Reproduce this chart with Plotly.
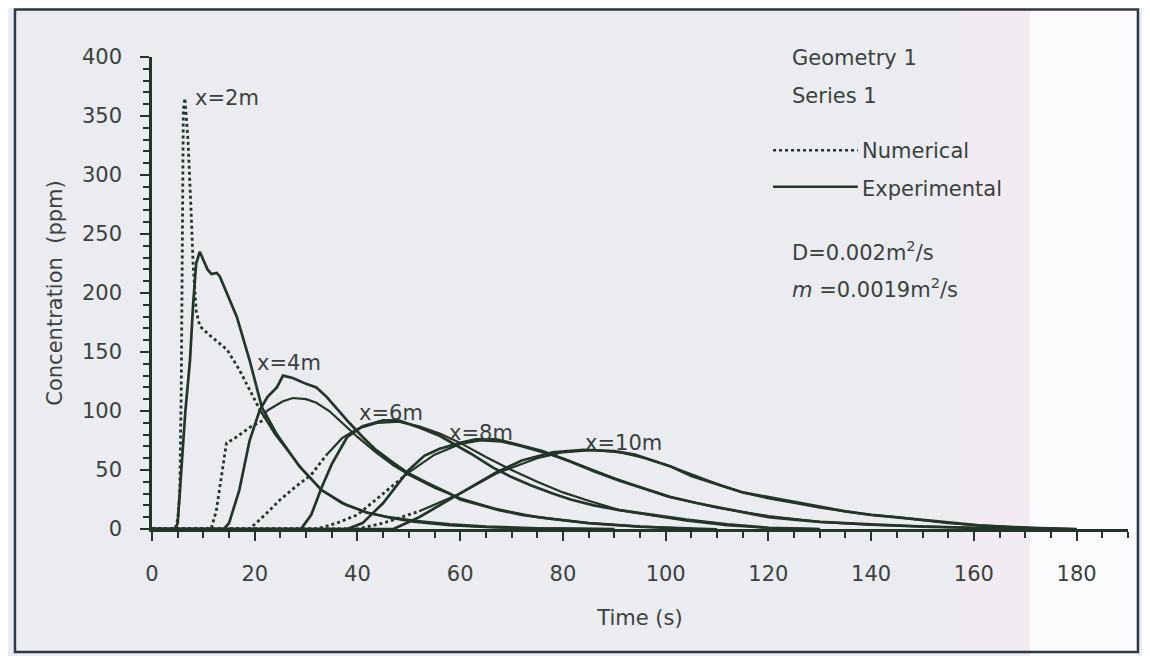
import plotly.graph_objects as go

# ---------------- data ----------------
# x = 2 m
t_num_2 = [0, 4.5, 5.0, 5.4, 5.7, 5.9, 6.1, 6.4, 7.0, 7.6, 8.0, 8.6, 9.3, 11, 13, 14.6, 17, 19, 21, 24, 29, 33, 38, 42, 47, 51, 58, 65, 75, 90]
c_num_2 = [0, 0, 8, 30, 120, 260, 355, 365, 330, 270, 225, 185, 172, 165, 158, 152, 135, 118, 101, 80, 52, 33, 20, 14, 9, 6, 3, 1.5, 0.5, 0]
t_exp_2 = [0, 4.5, 5, 5.8, 6.5, 7.4, 8.0, 8.6, 9.3, 10, 10.8, 11.6, 12.6, 13.2, 15, 16.5, 19, 21.4, 24.2, 28.7, 33, 37, 41.7, 46, 51, 58, 65, 75, 90]
c_exp_2 = [0, 0, 5, 53, 100, 143, 190, 225, 235, 228, 220, 216, 217, 214, 196, 180, 143, 103, 81, 53, 33, 22, 14, 10, 7, 4, 2, 0.5, 0]

# x = 4 m
t_num_4 = [0, 11.5, 12.5, 13.5, 14.5, 15.8, 17, 19, 21.6, 22.3, 25.4, 27.4, 30, 32, 34.5, 37, 40, 43.6, 47, 50, 55, 60, 67, 75, 85, 95, 110]
c_num_4 = [0, 0, 15, 45, 73, 76, 80, 86, 92, 100, 108, 111, 110, 107, 100, 90, 78, 65, 54, 46, 35, 26, 17, 10, 5, 2, 0]
t_exp_4 = [0, 14, 15, 16, 17, 19, 21, 22.5, 24.3, 25.5, 27.4, 30, 32, 34, 36, 38.4, 41, 43.6, 47, 50, 53.6, 58, 60, 64, 67.6, 72, 77, 85, 95, 105]
c_exp_4 = [0, 0, 5, 18, 33, 75, 101, 112, 120, 130, 128, 123, 120, 112, 102, 90, 78, 67, 56, 47, 39, 30, 25, 20, 16, 12, 9, 5, 2, 0]

# x = 6 m
t_num_6 = [0, 19, 22, 25, 28, 31, 34, 37, 40, 44, 48, 52, 56, 60, 65, 70, 75, 80, 85, 91, 98, 104, 112, 120, 130]
c_num_6 = [0, 0, 12, 25, 36, 46, 63, 77, 85, 90, 91, 87, 81, 73, 61, 50, 40, 31, 24, 16, 11, 7, 3, 1, 0]
t_exp_6 = [0, 29, 31, 33, 35, 38, 41, 45, 48, 52, 56, 58.5, 62, 66.4, 70, 73.7, 78, 81.5, 86, 91, 97.7, 104, 112, 120, 130]
c_exp_6 = [0, 0, 12, 35, 55, 78, 87, 92, 92, 86, 79, 73, 64, 52, 44, 37, 30, 25, 20, 16, 12, 8, 4, 1, 0]

# x = 8 m
t_num_8 = [0, 32, 36, 40, 45, 50, 55, 60, 64, 68, 72, 80, 90, 100, 110, 120, 130, 140, 150, 160, 170]
c_num_8 = [0, 0, 5, 12, 30, 48, 63, 72, 75, 74, 70, 60, 43, 28, 18, 11, 6, 3.5, 2, 1, 0]
t_exp_8 = [0, 38, 41, 45, 50, 53, 56, 60, 63, 67, 71.7, 76, 81.5, 86, 91, 96, 101, 106, 110.7, 115, 120, 125, 130, 140, 150, 160, 170]
c_exp_8 = [0, 0, 5, 22, 50, 62, 68, 73, 76, 76, 71, 66, 57, 49, 41, 34, 27, 22, 18, 14, 10, 8, 6, 4, 2, 1, 0]

# x = 10 m
t_num_10 = [0, 40, 45, 52, 60, 67, 75, 80, 86, 91, 96, 101, 106, 110.7, 115, 120, 125, 130, 135, 140, 145, 150, 155, 161, 171, 180]
c_num_10 = [0, 0, 5, 15, 30, 47, 60, 65, 67, 65, 60, 53, 45, 37, 31, 26, 22, 18, 15, 12, 10, 7.5, 5, 3, 1, 0]
t_exp_10 = [0, 47, 52, 56, 60, 67, 72, 78, 84, 90, 94, 98, 101, 105, 110.7, 115, 120, 125, 130, 135, 140, 145, 150, 156, 161, 171, 180]
c_exp_10 = [0, 0, 10, 20, 30, 48, 58, 65, 67, 66, 63, 57, 53, 45, 37, 31, 27, 23, 19, 15, 12, 10, 8, 5, 3, 1, 0]

# time up to which the numerical curve is drawn dotted
dotted_until = [21, 22.3, 34, 50, 52]

labels = ["x=2m", "x=4m", "x=6m", "x=8m", "x=10m"]
label_t = [8.0, 20.0, 40.0, 57.5, 84.0]
label_c = [365, 141, 98, 81, 73]

x_ticks = [0, 20, 40, 60, 80, 100, 120, 140, 160, 180]
y_ticks = [0, 50, 100, 150, 200, 250, 300, 350, 400]

# ---------------- figure ----------------
INK = "#233428"
TXT = "#3a413c"
FONT = "DejaVu Sans, Liberation Sans, Arial, sans-serif"
FS = 21

fig = go.Figure()

nums = [(t_num_2, c_num_2), (t_num_4, c_num_4), (t_num_6, c_num_6), (t_num_8, c_num_8), (t_num_10, c_num_10)]
exps = [(t_exp_2, c_exp_2), (t_exp_4, c_exp_4), (t_exp_6, c_exp_6), (t_exp_8, c_exp_8), (t_exp_10, c_exp_10)]

for (tn, cn), cut in zip(nums, dotted_until):
    k = max(i for i, t in enumerate(tn) if t <= cut)
    fig.add_trace(go.Scatter(x=tn[:k + 1], y=cn[:k + 1], mode="lines",
                             line=dict(color=INK, width=2.8, dash="dot"),
                             showlegend=False, hoverinfo="skip"))
    fig.add_trace(go.Scatter(x=tn[k:], y=cn[k:], mode="lines",
                             line=dict(color=INK, width=2.2),
                             showlegend=False, hoverinfo="skip"))

for te, ce in exps:
    fig.add_trace(go.Scatter(x=te, y=ce, mode="lines",
                             line=dict(color=INK, width=2.7),
                             showlegend=False, hoverinfo="skip"))

for lab, lt, lc in zip(labels, label_t, label_c):
    fig.add_annotation(x=lt, y=lc, text=lab, showarrow=False, xanchor="left",
                       yanchor="middle", font=dict(family=FONT, size=FS, color=TXT))

# right-hand text block
txt_items = [
    ("Geometry 1", 399),
    ("Series 1", 367),
    ("D=0.002m<sup>2</sup>/s", 236),
    ("<i>m</i> =0.0019m<sup>2</sup>/s", 204),
]
for text, yc in txt_items:
    fig.add_annotation(x=124.2, y=yc, text=text, showarrow=False, xanchor="left",
                       yanchor="middle", font=dict(family=FONT, size=FS, color=TXT))

# legend (lines + labels)
fig.add_shape(type="line", x0=120.9, x1=137.4, y0=321, y1=321, line=dict(color=INK, width=2.4, dash="dot"))
fig.add_shape(type="line", x0=120.9, x1=137.4, y0=290, y1=290, line=dict(color=INK, width=2.4))
fig.add_annotation(x=137.9, y=320, text="Numerical", showarrow=False, xanchor="left",
                   yanchor="middle", font=dict(family=FONT, size=FS, color=TXT))
fig.add_annotation(x=137.9, y=288, text="Experimental", showarrow=False, xanchor="left",
                   yanchor="middle", font=dict(family=FONT, size=FS, color=TXT))

# scanned page tint on the right and frame
fig.add_shape(type="rect", xref="paper", yref="paper", x0=0.828, x1=0.8996, y0=-0.3, y1=1.12,
              fillcolor="#f2ebf1", line=dict(width=0), layer="below")
fig.add_shape(type="rect", xref="paper", yref="paper", x0=0.8996, x1=1.01, y0=-0.3, y1=1.12,
              fillcolor="#fbfbfd", line=dict(width=0), layer="below")
fig.add_shape(type="rect", xref="paper", yref="paper",
              x0=-0.1404, x1=1.0102, y0=-0.2606, y1=1.1006,
              line=dict(color="#2b3a44", width=2.5), fillcolor="rgba(0,0,0,0)")

fig.update_layout(
    width=1142, height=648,
    margin=dict(l=144, r=22, t=49, b=127),
    paper_bgcolor="#eaecf0", plot_bgcolor="rgba(0,0,0,0)",
    font=dict(family=FONT, size=FS, color=TXT),
    showlegend=False,
)

fig.update_xaxes(range=[0, 190], tickvals=x_ticks, showgrid=False, zeroline=False,
                 showline=True, linecolor=INK, linewidth=2.5,
                 ticks="outside", ticklen=9, tickwidth=2, tickcolor=INK,
                 minor=dict(dtick=5, tick0=0, ticks="outside", ticklen=6, tickwidth=1.5, tickcolor=INK),
                 ticklabelstandoff=15,
                 tickfont=dict(family=FONT, size=FS, color=TXT),
                 title=dict(text="Time (s)", font=dict(family=FONT, size=FS, color=TXT), standoff=26))
fig.update_yaxes(range=[0, 400], tickvals=y_ticks, showgrid=False, zeroline=False,
                 showline=True, linecolor=INK, linewidth=2.5,
                 ticks="outside", ticklen=9, tickwidth=2, tickcolor=INK,
                 minor=dict(dtick=10, tick0=0, ticks="outside", ticklen=6, tickwidth=1.5, tickcolor=INK),
                 ticklabelstandoff=14,
                 tickfont=dict(family=FONT, size=FS, color=TXT),
                 title=dict(text="Concentration  (ppm)", font=dict(family=FONT, size=FS, color=TXT), standoff=14))

fig.write_html("out.html")
